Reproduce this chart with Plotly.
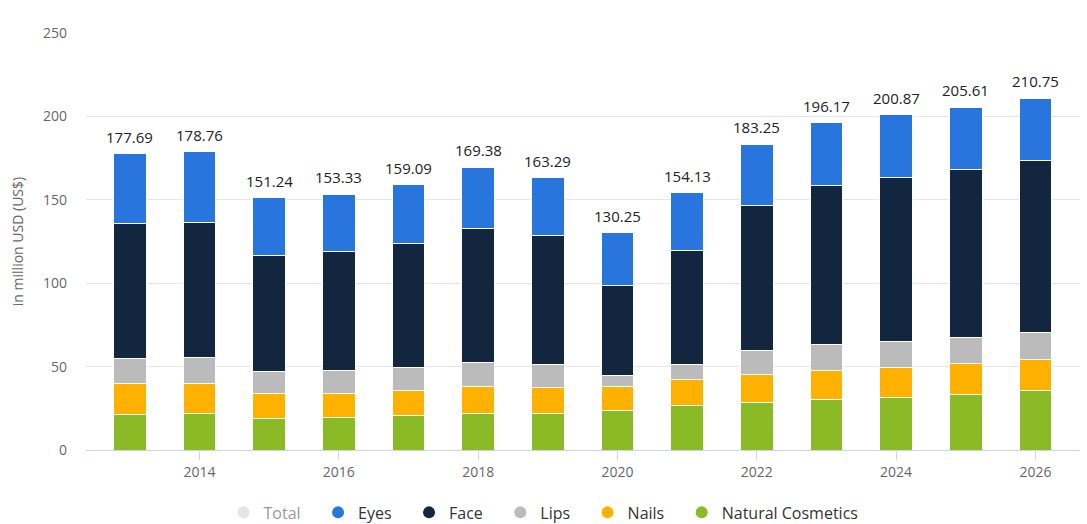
import plotly.graph_objects as go

years = [2013, 2014, 2015, 2016, 2017, 2018, 2019, 2020, 2021, 2022, 2023, 2024, 2025, 2026]
totals = [177.69, 178.76, 151.24, 153.33, 159.09, 169.38, 163.29, 130.25, 154.13, 183.25, 196.17, 200.87, 205.61, 210.75]
natural = [21.0, 21.6, 18.8, 19.6, 20.4, 21.8, 21.8, 23.6, 26.6, 28.3, 30.0, 31.6, 33.4, 35.6]
nails = [18.6, 18.0, 15.2, 14.4, 15.2, 16.0, 15.4, 14.2, 15.4, 17.0, 17.5, 17.6, 18.2, 18.4]
lips = [15.1, 15.8, 12.9, 13.5, 13.7, 14.8, 13.8, 6.8, 9.0, 14.5, 16.0, 16.1, 16.1, 16.3]
face = [81.0, 81.1, 69.6, 71.4, 74.4, 80.1, 77.5, 54.1, 68.9, 86.5, 94.8, 97.8, 100.2, 103.1]
eyes = [round(t - n - a - l - f, 2) for t, n, a, l, f in zip(totals, natural, nails, lips, face)]

x_ticks = [2014, 2016, 2018, 2020, 2022, 2024, 2026]
y_ticks = [0, 50, 100, 150, 200, 250]

series = [
    ("Natural Cosmetics", natural, "#8ABB27"),
    ("Nails", nails, "#FFB100"),
    ("Lips", lips, "#BBBBBB"),
    ("Face", face, "#12263F"),
    ("Eyes", eyes, "#2876DD"),
]

FONT = "Open Sans"
fig = go.Figure()

for name, vals, col in series:
    fig.add_trace(go.Bar(
        x=years, y=vals, name=name, marker_color=col,
        marker_line_color="white", marker_line_width=1,
        showlegend=False, legendgroup=name,
        hovertemplate="%{x}: %{y}<extra>" + name + "</extra>",
    ))

# total labels above each stack
for yr, t in zip(years, totals):
    fig.add_annotation(
        x=yr, y=t, text=f"{t:.2f}", showarrow=False,
        yanchor="bottom", yshift=5,
        font=dict(family=FONT, size=15, color="#222222"),
    )

# legend entries (circle markers)
pad = "\u00a0\u00a0\u00a0"
legend_order = [("Total", "#CCCCCC")] + [(n, c) for n, _, c in reversed(series)]
for i, (name, col) in enumerate(legend_order):
    fig.add_trace(go.Scatter(
        x=[None], y=[None], mode="markers",
        name=name + (pad if i < len(legend_order) - 1 else ""),
        marker=dict(symbol="circle", size=15, color=col),
        legendgroup=name, showlegend=True,
        visible="legendonly" if name == "Total" else True,
    ))

fig.update_layout(
    barmode="stack",
    bargap=0.53,
    width=1087, height=524,
    margin=dict(l=86, r=7, t=33, b=74, autoexpand=False),
    paper_bgcolor="white", plot_bgcolor="white",
    font=dict(family=FONT, size=14, color="#666666"),
    legend=dict(
        orientation="h", xref="container", x=0.5, xanchor="center",
        yref="container", y=0.022, yanchor="middle",
        font=dict(family=FONT, size=16, color="#333333"),
        itemsizing="constant", traceorder="normal",
    ),
    xaxis=dict(
        range=[2012.37, 2026.64],
        tickvals=x_ticks, ticktext=[str(v) for v in x_ticks],
        showgrid=False, showline=True, linecolor="#CCD6EB", linewidth=1,
        ticks="outside", ticklen=9, tickcolor="#CCD6EB",
        tickfont=dict(family=FONT, size=14, color="#666666"),
        zeroline=False, fixedrange=True,
    ),
    yaxis=dict(
        range=[0, 250], tickvals=y_ticks,
        showgrid=True, gridcolor="#E6E6E6", gridwidth=1,
        zeroline=False, showline=False,
        ticks="", ticklabelstandoff=18,
        tickfont=dict(family=FONT, size=14, color="#666666"),
        title=dict(text="in million USD (US$)", standoff=16,
                   font=dict(family=FONT, size=14, color="#666666")),
        fixedrange=True,
    ),
)

fig.write_html("out.html")
